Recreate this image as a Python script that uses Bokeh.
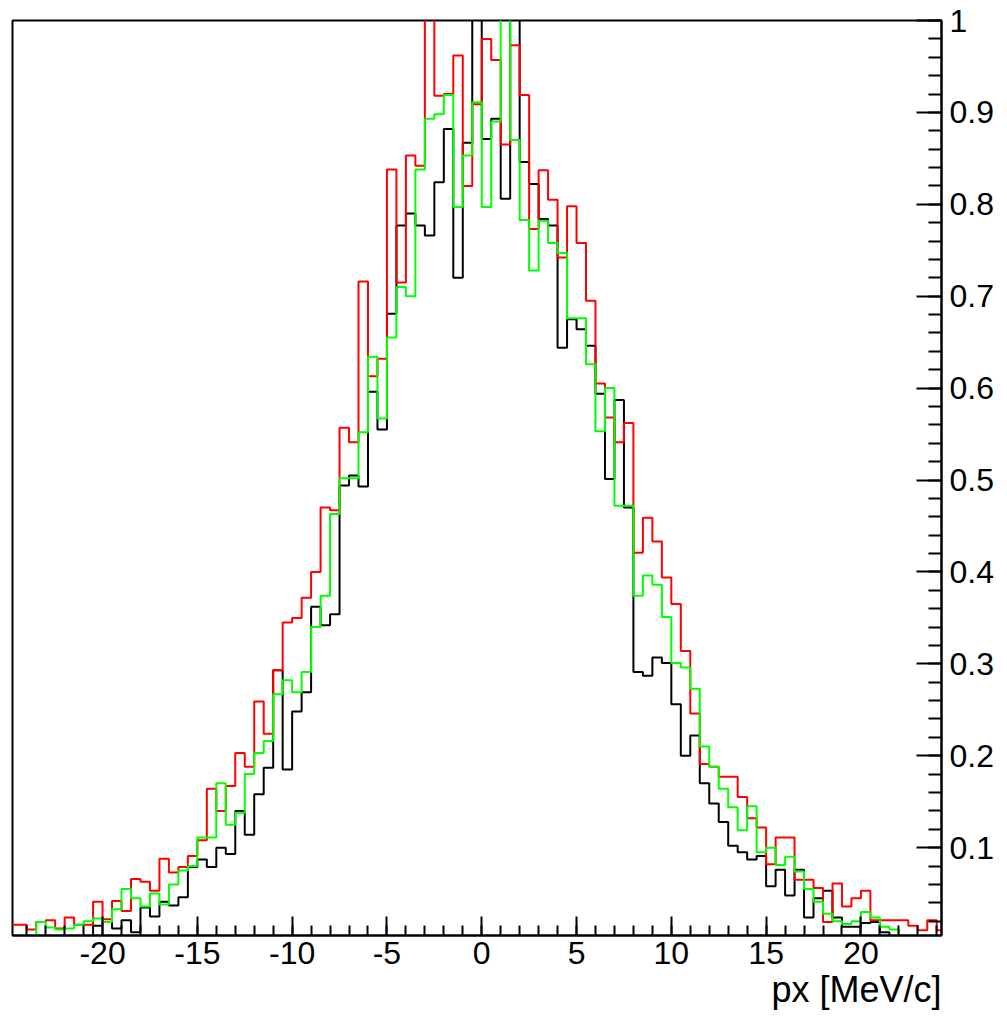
from bokeh.plotting import figure
from bokeh.models import FixedTicker, Range1d, Title
from bokeh.embed import file_html
from bokeh.resources import INLINE

# ---- data: histogram bins of width 0.5 starting at -25 (100 bins) ----
bin_start = -25.0
bin_width = 0.5

red_vals = [
    0.016, 0.016, 0.011, 0.019, 0.021, 0.012, 0.024, 0.016, 0.016, 0.041,
    0.022, 0.042, 0.031, 0.066, 0.063, 0.053, 0.088, 0.073, 0.079, 0.091,
    0.108, 0.164, 0.140, 0.167, 0.203, 0.188, 0.259, 0.224, 0.293, 0.345,
    0.350, 0.372, 0.400, 0.470, 0.467, 0.557, 0.541, 0.716, 0.613, 0.632,
    0.838, 0.715, 0.853, 0.842, 1.050, 0.918, 0.920, 0.962, 0.820, 0.909,
    0.980, 0.957, 0.865, 0.973, 0.919, 0.773, 0.837, 0.805, 0.742, 0.798,
    0.758, 0.695, 0.605, 0.568, 0.541, 0.562, 0.421, 0.459, 0.433, 0.394,
    0.365, 0.314, 0.246, 0.191, 0.188, 0.177, 0.177, 0.155, 0.132, 0.122,
    0.082, 0.111, 0.111, 0.065, 0.065, 0.056, 0.019, 0.061, 0.036, 0.045,
    0.053, 0.021, 0.021, 0.021, 0.021, 0.015, 0.010, 0.021, 0.010, 0.010,
]

green_vals = [
    0.002, 0.002, 0.002, 0.019, 0.013, 0.011, 0.012, 0.016, 0.020, 0.023,
    0.019, 0.033, 0.055, 0.045, 0.036, 0.050, 0.038, 0.060, 0.075, 0.080,
    0.111, 0.111, 0.170, 0.125, 0.138, 0.180, 0.203, 0.216, 0.267, 0.282,
    0.269, 0.291, 0.340, 0.374, 0.463, 0.502, 0.502, 0.552, 0.634, 0.567,
    0.655, 0.710, 0.700, 0.838, 0.893, 0.898, 0.919, 0.797, 0.853, 0.911,
    0.797, 0.890, 1.050, 0.870, 0.783, 0.728, 0.782, 0.758, 0.747, 0.676,
    0.676, 0.626, 0.553, 0.600, 0.472, 0.472, 0.374, 0.396, 0.386, 0.351,
    0.301, 0.296, 0.273, 0.210, 0.188, 0.164, 0.144, 0.119, 0.145, 0.095,
    0.100, 0.081, 0.090, 0.074, 0.055, 0.041, 0.028, 0.020, 0.017, 0.020,
    0.030, 0.024, 0.014, 0.011, 0.002, 0.002, 0.002, 0.002, 0.002, 0.002,
]

black_vals = [
    0.002, 0.002, 0.002, 0.002, 0.002, 0.002, 0.002, 0.002, 0.002, 0.015,
    0.019, 0.012, 0.021, 0.008, 0.035, 0.025, 0.041, 0.037, 0.046, 0.079,
    0.087, 0.079, 0.100, 0.093, 0.140, 0.114, 0.158, 0.187, 0.293, 0.185,
    0.248, 0.269, 0.362, 0.342, 0.354, 0.494, 0.505, 0.493, 0.596, 0.555,
    0.681, 0.777, 0.790, 0.777, 0.766, 0.824, 0.882, 0.720, 0.867, 1.050,
    0.871, 0.893, 0.806, 1.020, 0.846, 0.822, 0.784, 0.777, 0.644, 0.675,
    0.664, 0.646, 0.594, 0.501, 0.587, 0.470, 0.291, 0.287, 0.307, 0.301,
    0.256, 0.200, 0.222, 0.170, 0.148, 0.128, 0.102, 0.095, 0.087, 0.091,
    0.058, 0.076, 0.048, 0.076, 0.024, 0.045, 0.053, 0.024, 0.014, 0.014,
    0.018, 0.019, 0.008, 0.002, 0.002, 0.002, 0.002, 0.002, 0.002, 0.002,
]

x_major_ticks = [-20, -15, -10, -5, 0, 5, 10, 15, 20]
x_major_labels = ["-20", "-15", "-10", "-5", "0", "5", "10", "15", "20"]
x_minor_ticks = list(range(-24, 25))
y_major_ticks = [0.1, 0.2, 0.3, 0.4, 0.5, 0.6, 0.7, 0.8, 0.9, 1.0]
y_major_labels = ["0.1", "0.2", "0.3", "0.4", "0.5", "0.6", "0.7", "0.8", "0.9", "1"]
y_minor_ticks = [round(0.02 * k, 2) for k in range(1, 51)]
x_title = "px [MeV/c]"

FONT = "Liberation Sans"
X_LO, X_HI = -24.75, 24.25
Y_LO, Y_HI = 0.0044, 1.0

n = len(red_vals)
edges = [bin_start + bin_width * i for i in range(n + 1)]

p = figure(
    width=1007, height=1019,
    output_backend="svg", toolbar_location=None,
    x_range=Range1d(X_LO, X_HI), y_range=Range1d(Y_LO, Y_HI),
    y_axis_location="right",
    min_border_left=12, min_border_right=66, min_border_top=20, min_border_bottom=84,
)
p.background_fill_color = "white"
p.border_fill_color = "white"
p.outline_line_color = "black"
p.outline_line_width = 2
p.xgrid.visible = False
p.ygrid.visible = False

for vals, col in ((black_vals, "#000000"), (red_vals, "#ff0000"), (green_vals, "#00ff00")):
    p.step(x=edges, y=list(vals) + [vals[-1]], mode="after", line_color=col, line_width=2)

xa = p.xaxis[0]
xa.ticker = FixedTicker(ticks=x_major_ticks, minor_ticks=x_minor_ticks)
xa.major_label_overrides = dict(zip(x_major_ticks, x_major_labels))
ya = p.yaxis[0]
ya.ticker = FixedTicker(ticks=y_major_ticks, minor_ticks=y_minor_ticks)
ya.major_label_overrides = dict(zip(y_major_ticks, y_major_labels))

for ax in (xa, ya):
    ax.axis_line_width = 2
    ax.axis_line_color = "black"
    ax.major_tick_line_width = 2
    ax.minor_tick_line_width = 2
    ax.major_tick_out = 0
    ax.minor_tick_out = 0
    ax.major_label_text_font = FONT
    ax.major_label_text_font_size = "32px"
    ax.major_label_text_color = "black"

xa.major_tick_in = 19
xa.minor_tick_in = 10
ya.major_tick_in = 25
ya.minor_tick_in = 13
xa.major_label_standoff = 6
ya.major_label_standoff = 8

# axis title, right-aligned under the frame's right edge
p.add_layout(Title(
    text=x_title, align="right", standoff=0,
    text_font=FONT, text_font_size="36px", text_font_style="normal",
    text_color="black",
), "below")

open("out.html", "w").write(file_html(p, INLINE))
